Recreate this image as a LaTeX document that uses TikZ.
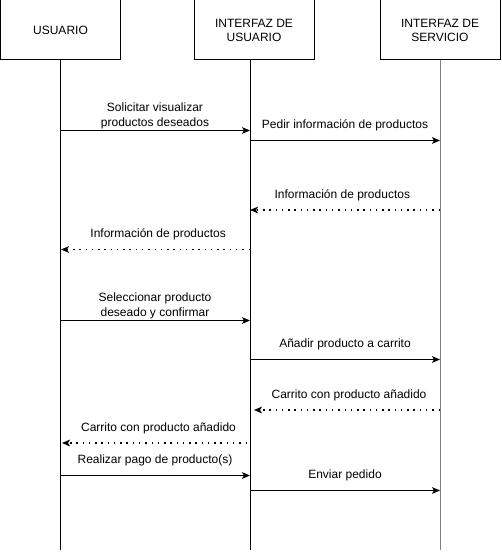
\documentclass[tikz,border=0pt]{standalone}
\usepackage{fontspec}
\setmainfont{Liberation Sans}
\usetikzlibrary{arrows.meta}
\begin{document}
\begin{tikzpicture}[x=0.75pt,y=-0.75pt,
  actor/.style={draw, line width=0.75pt, minimum width=90pt, minimum height=45pt, inner sep=0pt, align=center, font=\fontsize{9}{10.5}\selectfont},
  life/.style={line width=0.75pt},
  msg/.style={line width=0.75pt, -{Stealth[length=6pt,width=5pt,inset=1.5pt]}},
  reply/.style={msg, line width=1.1pt, dash pattern=on 1.1pt off 3.6pt},
  lbl/.style={font=\fontsize{9}{11.25}\selectfont, align=center, yshift=11.25pt, inner sep=0pt}]
\useasboundingbox (0,0) rectangle (501,552);
\node[actor] (u) at (60.5,30) {USUARIO};
\node[actor] (iu) at (254,30) {INTERFAZ DE\\USUARIO};
\node[actor] (is) at (440,30) {INTERFAZ DE\\SERVICIO};
\coordinate (ue) at (60,550);
\coordinate (iue) at (250,550);
\coordinate (ise) at (440,550);
\draw[life] (u.south -| ue) -- (ue);
\draw[life] (iu.south -| iue) -- (iue);
\draw[life, draw=black!50] (is.south -| ise) -- (ise);
% message points
\coordinate (a1) at (60,130.5);  \coordinate (b1) at (250,130.5);
\coordinate (a2) at (250,140.5); \coordinate (b2) at (440,140.5);
\coordinate (a3) at (440,210);   \coordinate (b3) at (250,210);
\coordinate (a4) at (250,249.5); \coordinate (b4) at (61,249.5);
\coordinate (a5) at (60,320.5);  \coordinate (b5) at (250,320.5);
\coordinate (a6) at (250,359.5); \coordinate (b6) at (440,359.5);
\coordinate (a7) at (440,410);   \coordinate (b7) at (254,410);
\coordinate (a8) at (247,443);   \coordinate (b8) at (62,443);
\coordinate (a9) at (60,475.5);  \coordinate (b9) at (250,475.5);
\coordinate (a10) at (250,490.5); \coordinate (b10) at (440,490.5);
\draw[msg] (a1) -- node[lbl] {Solicitar visualizar\\productos deseados} (b1);
\draw[msg] (a2) -- node[lbl] {Pedir información de productos} (b2);
\draw[reply] (a3) -- node[lbl, xshift=-2pt] {Información de productos} (b3);
\draw[reply] (a4) -- node[lbl, xshift=2pt] {Información de productos} (b4);
\draw[msg] (a5) -- node[lbl] {Seleccionar producto\\deseado y confirmar} (b5);
\draw[msg] (a6) -- node[lbl] {Añadir producto a carrito} (b6);
\draw[reply] (a7) -- node[lbl, xshift=1.5pt] {Carrito con producto añadido} (b7);
\draw[reply] (a8) -- node[lbl, xshift=3pt] {Carrito con producto añadido} (b8);
\draw[msg] (a9) -- node[lbl] {Realizar pago de producto(s)} (b9);
\draw[msg] (a10) -- node[lbl] {Enviar pedido} (b10);
\end{tikzpicture}
\end{document}
